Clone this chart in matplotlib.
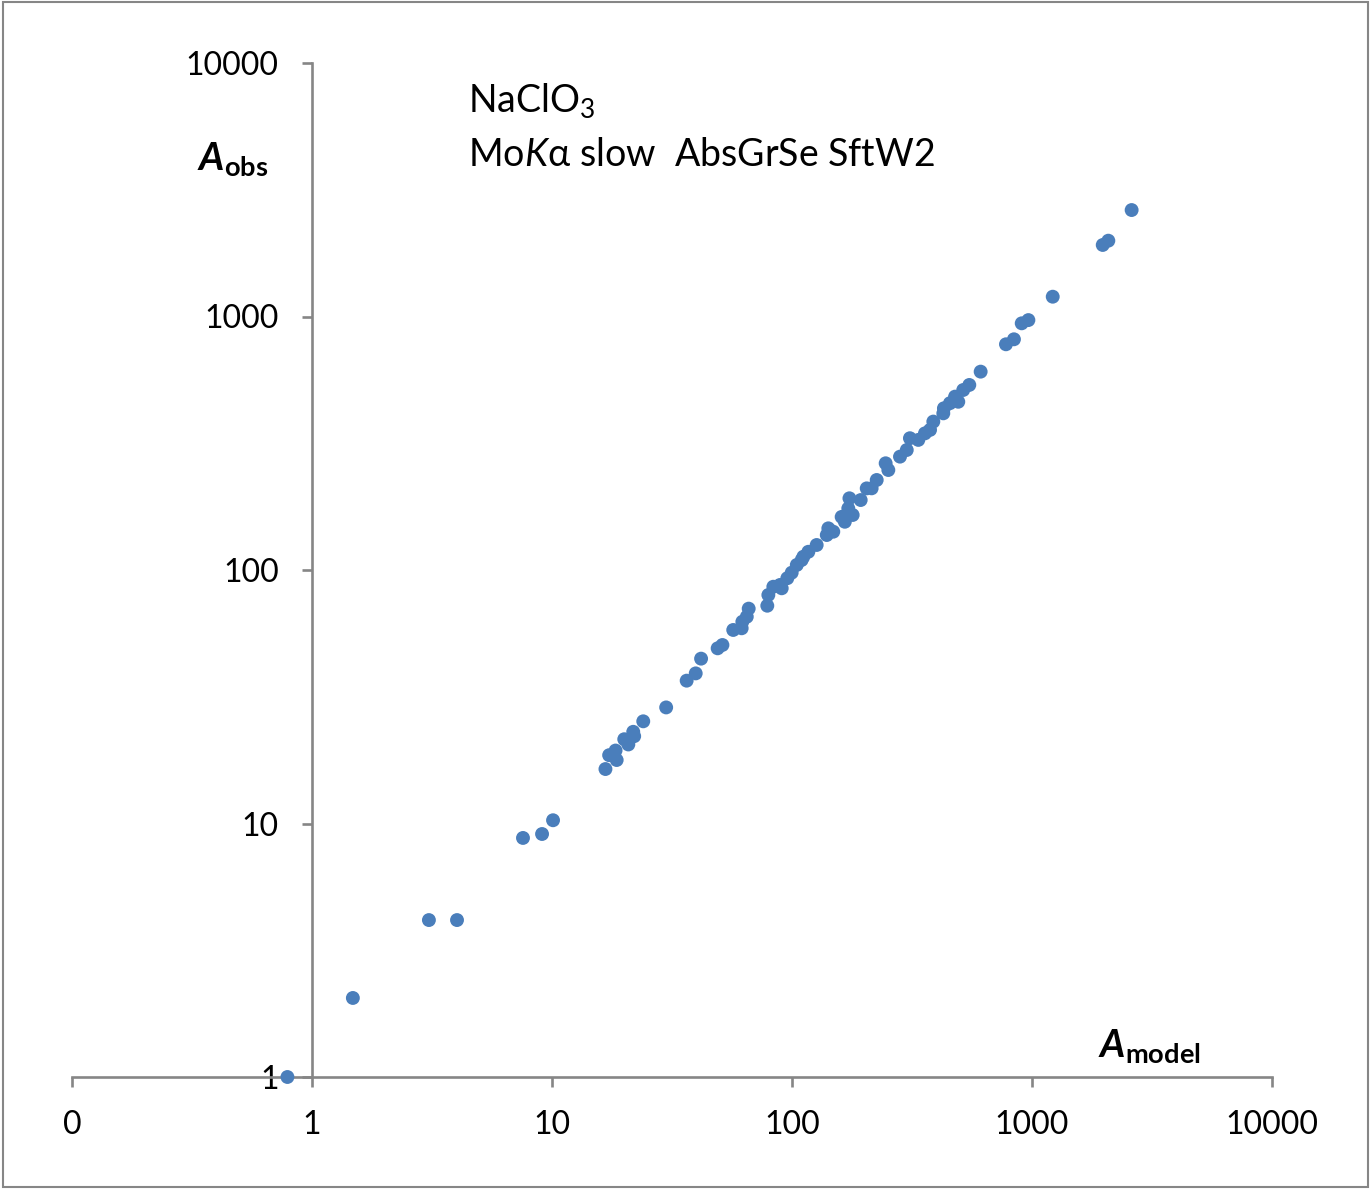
import numpy as np
import matplotlib
matplotlib.use("Agg")
import matplotlib.pyplot as plt
from matplotlib.patches import Rectangle
from matplotlib.ticker import FixedLocator, FixedFormatter, NullLocator

plt.rcParams['font.family'] = ['Lato', 'DejaVu Sans']
plt.rcParams['mathtext.fontset'] = 'custom'
plt.rcParams['mathtext.rm'] = 'Lato'
plt.rcParams['mathtext.it'] = 'Lato:italic'
plt.rcParams['mathtext.bf'] = 'Lato:bold'
plt.rcParams['mathtext.bfit'] = 'Lato:bold:italic'

# data
a_model = [0.79, 1.48, 3.07, 4.02, 7.57, 9.09, 10.1,
           16.7, 17.3, 18.4, 18.6, 20.0, 20.8, 21.8, 22.0, 24.0, 29.9,
           36.4, 39.7, 41.8, 49.0, 51.3, 56.9, 61.7, 62.1, 64.8, 66.0,
           78.9, 79.7, 83.6, 89.1, 90.6, 95.6, 99.7, 104.7, 109.7,
           111.5, 117, 126.7, 139.6, 141.7, 148.6, 161, 166, 171.6, 173.5,
           179, 193.3, 204.8, 214.7, 225.4, 245.6, 252, 281.8, 300.7, 310,
           336, 358, 376, 388, 427, 429.5, 455, 478, 493, 517, 548,
           611, 779, 841, 906, 966, 1220, 1971, 2080, 2601]
a_obs = [1.0, 2.05, 4.16, 4.16, 8.77, 9.09, 10.3,
         16.4, 18.6, 19.4, 17.8, 21.5, 20.5, 23.0, 22.1, 25.3, 28.7,
         36.6, 39.1, 44.7, 49.1, 50.6, 58.0, 58.9, 62.5, 65.4, 70.4,
         72.3, 79.7, 85.9, 87.3, 84.7, 92.8, 97.6, 104.7, 109.5,
         112.8, 118, 125.5, 137.4, 146, 141.6, 162, 155, 175, 191.8,
         164.8, 188.8, 209.9, 210, 226.5, 263.6, 248, 280, 297.4, 331,
         326, 346, 357, 385, 415, 434.5, 455, 483, 461, 513, 537,
         606, 777, 813, 940, 968, 1197, 1915, 1991, 2630]

x_ticks = [0.1, 1, 10, 100, 1000, 10000]
x_labels = ['0', '1', '10', '100', '1000', '10000']
y_ticks = [1, 10, 100, 1000, 10000]
y_labels = ['1', '10', '100', '1000', '10000']

W, H = 1371, 1189
fig = plt.figure(figsize=(W / 100, H / 100), dpi=100)
ax = fig.add_axes([72 / W, (H - 1077) / H, 1200 / W, 1014 / H])

axis_grey = '#868686'
ax.scatter(a_model, a_obs, s=100, color='#4A7EBB', edgecolors='none',
           zorder=3, clip_on=False)

ax.set_xscale('log')
ax.set_yscale('log')
ax.set_xlim(0.1, 10000)
ax.set_ylim(1, 10000)

ax.spines['top'].set_visible(False)
ax.spines['right'].set_visible(False)
ax.spines['left'].set_position(('data', 1))
for s in ('left', 'bottom'):
    ax.spines[s].set_color(axis_grey)
    ax.spines[s].set_linewidth(1.9)

ax.xaxis.set_major_locator(FixedLocator(x_ticks))
ax.xaxis.set_major_formatter(FixedFormatter(x_labels))
ax.yaxis.set_major_locator(FixedLocator(y_ticks))
ax.yaxis.set_major_formatter(FixedFormatter(y_labels))
ax.xaxis.set_minor_locator(NullLocator())
ax.yaxis.set_minor_locator(NullLocator())
ax.tick_params(axis='both', which='major', length=7, width=1.9,
               color=axis_grey, labelsize=23, labelcolor='black', pad=17)

# axis titles and chart label
fig.text(197 / W, 1 - 170 / H, r'$\mathbfit{A}_{\mathbf{obs}}$', fontsize=28)
fig.text(1098 / W, 1 - 1057 / H, r'$\mathbfit{A}_{\mathbf{model}}$', fontsize=28)
fig.text(468 / W, 1 - 112 / H, r'NaClO$_3$', fontsize=27)
fig.text(468 / W, 1 - 166 / H, r'Mo$\mathit{K}$α slow  AbsGrSe SftW2', fontsize=27)

fig.patches.append(Rectangle((0.002, 0.002), 0.996, 0.996, transform=fig.transFigure,
                             fill=False, edgecolor=axis_grey, linewidth=1.5))

fig.savefig('out.png', dpi=100)
